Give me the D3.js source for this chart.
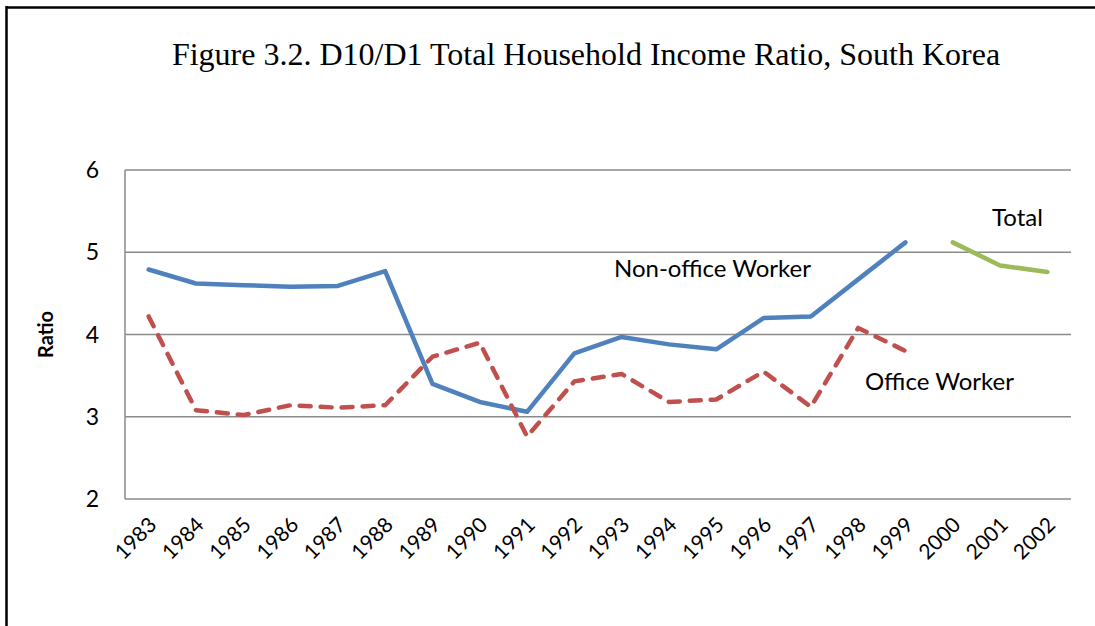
<!DOCTYPE html>
<html>
<head>
<meta charset="utf-8">
<script src="https://cdn.jsdelivr.net/npm/d3@7"></script>
<style>
  body { margin: 0; background: #fff; }
  svg { display: block; }
</style>
</head>
<body>
<div id="chart"></div>
<script>
// Chart data
const years = ["1983","1984","1985","1986","1987","1988","1989","1990","1991","1992",
               "1993","1994","1995","1996","1997","1998","1999","2000","2001","2002"];
const nonOffice = [4.79, 4.62, 4.60, 4.58, 4.59, 4.77, 3.40, 3.18, 3.06, 3.77,
                   3.97, 3.88, 3.82, 4.20, 4.22, 4.67, 5.12, null, null, null];
const office = [4.22, 3.08, 3.02, 3.14, 3.11, 3.14, 3.73, 3.90, 2.76, 3.43,
                3.52, 3.18, 3.21, 3.55, 3.12, 4.08, 3.80, null, null, null];
const total = [null, null, null, null, null, null, null, null, null, null,
               null, null, null, null, null, null, null, 5.12, 4.84, 4.76];
const yTicks = [2, 3, 4, 5, 6];

const width = 1095, height = 626;
const margin = { left: 125, right: 24, top: 170, bottom: 127 };

const svg = d3.select("#chart")
    .append("svg")
    .attr("width", width)
    .attr("height", height);

// outer frame (top + left edges only visible)
svg.append("line")
    .attr("x1", 6).attr("x2", width).attr("y1", 7.5).attr("y2", 7.5)
    .attr("stroke", "#000").attr("stroke-width", 2.5);
svg.append("line")
    .attr("x1", 6.5).attr("x2", 6.5).attr("y1", 6).attr("y2", height)
    .attr("stroke", "#000").attr("stroke-width", 2.5);

// title
svg.append("text")
    .attr("x", 586)
    .attr("y", 65)
    .attr("text-anchor", "middle")
    .style("font-family", "'Liberation Serif', 'Times New Roman', serif")
    .style("font-size", "32px")
    .text("Figure 3.2. D10/D1 Total Household Income Ratio, South Korea");

const x = d3.scaleBand()
    .domain(years)
    .range([margin.left, width - margin.right]);

const y = d3.scaleLinear()
    .domain([2, 6])
    .range([height - margin.bottom, margin.top]);

const font = "Lato, 'Open Sans', sans-serif";

// gridlines
svg.append("g")
    .selectAll("line")
    .data(yTicks)
    .enter()
    .append("line")
    .attr("x1", margin.left)
    .attr("x2", width - margin.right)
    .attr("y1", d => y(d))
    .attr("y2", d => y(d))
    .attr("stroke", "#8a8a8a")
    .attr("stroke-width", 1.5);

// left axis line
svg.append("line")
    .attr("x1", margin.left).attr("x2", margin.left)
    .attr("y1", y(6)).attr("y2", y(2))
    .attr("stroke", "#8a8a8a")
    .attr("stroke-width", 1.5);

// y tick labels
svg.append("g")
    .selectAll("text")
    .data(yTicks)
    .enter()
    .append("text")
    .attr("x", 99)
    .attr("y", d => y(d))
    .attr("dy", "0.35em")
    .attr("text-anchor", "end")
    .style("font-family", font)
    .style("font-size", "23px")
    .text(d => d);

// y axis title
svg.append("text")
    .attr("transform", `translate(53, ${(y(6) + y(2)) / 2}) rotate(-90)`)
    .attr("text-anchor", "middle")
    .style("font-family", font)
    .style("font-weight", "bold")
    .style("font-size", "20px")
    .text("Ratio");

// x tick labels, rotated
svg.append("g")
    .selectAll("text")
    .data(years)
    .enter()
    .append("text")
    .attr("transform", d => `translate(${x(d) + x.bandwidth() / 2 + 4}, ${y(2) + 22}) rotate(-45)`)
    .attr("text-anchor", "end")
    .attr("dy", "0.35em")
    .style("font-family", font)
    .style("font-size", "21px")
    .text(d => d);

const line = d3.line()
    .defined(d => d != null)
    .x((d, i) => x(years[i]) + x.bandwidth() / 2)
    .y(d => y(d));

svg.append("path")
    .datum(nonOffice)
    .attr("d", line)
    .attr("fill", "none")
    .attr("stroke", "#4f81bd")
    .attr("stroke-width", 4.5)
    .attr("stroke-linejoin", "round")
    .attr("stroke-linecap", "round");

svg.append("path")
    .datum(office)
    .attr("d", line)
    .attr("fill", "none")
    .attr("stroke", "#c0504d")
    .attr("stroke-width", 4.5)
    .attr("stroke-dasharray", "11,10")
    .attr("stroke-linejoin", "round")
    .attr("stroke-linecap", "round");

svg.append("path")
    .datum(total)
    .attr("d", line)
    .attr("fill", "none")
    .attr("stroke", "#9bbb59")
    .attr("stroke-width", 4.5)
    .attr("stroke-linejoin", "round")
    .attr("stroke-linecap", "round");

// series labels
const labels = [
    { text: "Non-office Worker", x: 614, y: 277 },
    { text: "Office Worker", x: 865, y: 390 },
    { text: "Total", x: 992, y: 226 }
];
svg.append("g")
    .selectAll("text")
    .data(labels)
    .enter()
    .append("text")
    .attr("x", d => d.x)
    .attr("y", d => d.y)
    .style("font-family", font)
    .style("font-size", "24px")
    .text(d => d.text);
</script>
</body>
</html>
